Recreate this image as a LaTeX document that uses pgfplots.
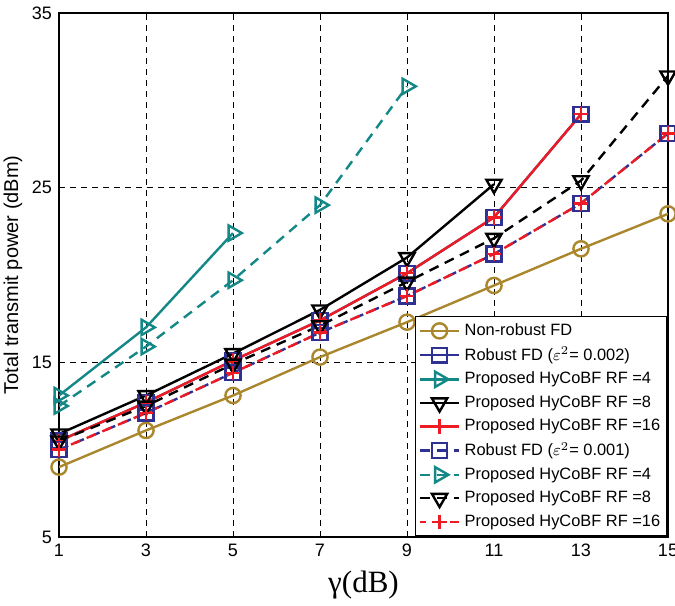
\documentclass[border=0pt]{standalone}
\usepackage{fontspec}
\setmainfont{Liberation Sans}
\newfontfamily\serifx{Liberation Serif}
\usepackage{pgfplots}
\pgfplotsset{compat=1.18}
\definecolor{cgold}{RGB}{170,135,45}
\definecolor{cblue}{RGB}{46,49,146}
\definecolor{cteal}{RGB}{20,135,135}
\definecolor{cred}{RGB}{237,28,36}
\begin{document}
\begin{tikzpicture}
\begin{axis}[
  name=ax,
  scale only axis,
  width=304.5pt, height=262pt,
  xmin=1, xmax=15, ymin=5, ymax=35,
  xtick={1,3,5,7,9,11,13,15},
  ytick={5,15,25,35},
  grid=major,
  major grid style={black, dash pattern=on 3pt off 2.5pt, line width=0.4pt},
  axis line style={black, line width=0.8pt},
  tick style={black, line width=0.4pt},
  major tick length=3pt,
  tick align=inside,
  /pgf/number format/assume math mode=true,
  ticklabel style={font=\fontsize{9}{10}\selectfont},
  xlabel={\serifx\fontsize{15.5}{17}\selectfont γ(dB)},
  ylabel={Total transmit power (dBm)},
  ylabel style={font=\fontsize{10}{12}\selectfont, yshift=-2pt},
  xlabel style={yshift=0pt},
  legend style={at={(1,0)}, anchor=south east, draw=black, line width=0.8pt,
    font=\fontsize{8.2}{9}\selectfont, row sep=0.3pt, inner sep=1.5pt},
  legend cell align=left,
  legend image code/.code={%
    \draw[mark repeat=2,mark phase=2] plot coordinates {(0cm,0cm)(0.35cm,0cm)(0.7cm,0cm)};},
  every axis plot/.append style={line width=1.2pt},
]
% Non-robust FD
\addplot[color=cgold, solid, mark=o, mark size=3.8pt, mark options={solid}]
  coordinates {(1,9.0)(3,11.1)(5,13.1)(7,15.3)(9,17.3)(11,19.4)(13,21.5)(15,23.5)};
\addlegendentry{Non-robust FD}
% Robust FD 0.002
\addplot[color=cblue, solid, mark=square, mark size=3.7pt, mark options={solid}]
  coordinates {(1,10.5)(3,12.7)(5,15.1)(7,17.4)(9,20.1)(11,23.3)(13,29.2)};
\addlegendentry{Robust FD ($\varepsilon^2$= 0.002)}
% RF=4 solid
\addplot[color=cteal, solid, mark=triangle, mark size=4.4pt, mark options={solid, rotate=-90}]
  coordinates {(1,13.1)(3,17.0)(5,22.4)};
\addlegendentry{Proposed HyCoBF RF =4}
% RF=8 solid
\addplot[color=black, solid, mark=triangle, mark size=4.4pt, mark options={solid, rotate=180}]
  coordinates {(1,10.9)(3,13.1)(5,15.5)(7,18.0)(9,21.0)(11,25.2)};
\addlegendentry{Proposed HyCoBF RF =8}
% RF=16 solid
\addplot[color=cred, solid, mark=+, mark size=3.6pt, mark options={solid}]
  coordinates {(1,10.5)(3,12.7)(5,15.1)(7,17.4)(9,20.1)(11,23.3)(13,29.2)};
\addlegendentry{Proposed HyCoBF RF =16}
% Robust FD 0.001 (dashed)
\addplot[color=cblue, dash pattern=on 5pt off 3.5pt, mark=square, mark size=3.7pt, mark options={solid}]
  coordinates {(1,10.0)(3,12.1)(5,14.4)(7,16.7)(9,18.8)(11,21.2)(13,24.1)(15,28.1)};
\addlegendentry{Robust FD ($\varepsilon^2$= 0.001)}
% RF=4 dashed
\addplot[color=cteal, dash pattern=on 5pt off 3.5pt, mark=triangle, mark size=4.4pt, mark options={solid, rotate=-90}]
  coordinates {(1,12.5)(3,15.9)(5,19.7)(7,24.0)(9,30.8)};
\addlegendentry{Proposed HyCoBF RF =4}
% RF=8 dashed
\addplot[color=black, dash pattern=on 5pt off 3.5pt, mark=triangle, mark size=4.4pt, mark options={solid, rotate=180}]
  coordinates {(1,10.5)(3,12.5)(5,14.9)(7,17.1)(9,19.6)(11,22.1)(13,25.4)(15,31.4)};
\addlegendentry{Proposed HyCoBF RF =8}
% RF=16 dashed
\addplot[color=cred, dash pattern=on 5pt off 3.5pt, dash phase=2pt, mark=+, mark size=3.6pt, mark options={solid}]
  coordinates {(1,10.0)(3,12.1)(5,14.4)(7,16.7)(9,18.8)(11,21.2)(13,24.1)(15,28.1)};
\addlegendentry{Proposed HyCoBF RF =16}
\end{axis}
\pgfresetboundingbox
\path ([xshift=-29.5pt,yshift=-34.5pt]ax.south west) rectangle ([xshift=3.5pt,yshift=6.5pt]ax.north east);
\end{tikzpicture}
\end{document}
